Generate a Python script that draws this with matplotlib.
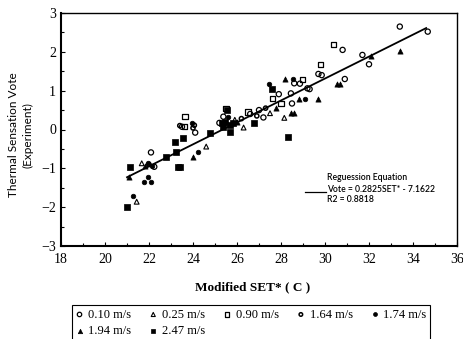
import matplotlib
matplotlib.use("Agg")
import matplotlib.pyplot as plt
from matplotlib.lines import Line2D
import numpy as np

# ---- data ----
series_labels = ["0.10 m/s", "0.25 m/s", "0.90 m/s", "1.64 m/s", "1.74 m/s", "1.94 m/s", "2.47 m/s"]

x_010 = [33.4, 34.67, 32.0, 31.7, 30.8, 29.7, 29.85, 30.9, 29.2, 29.3, 28.86, 28.6, 28.45, 27.9, 28.5, 27.2, 25.38, 23.5, 24.1, 22.24, 22.09, 26.6, 27.0, 25.2]
y_010 = [2.65, 2.52, 1.68, 1.92, 2.05, 1.43, 1.40, 1.30, 1.06, 1.04, 1.18, 1.19, 0.93, 0.91, 0.67, 0.31, 0.33, 0.07, -0.08, -0.96, -0.59, 0.40, 0.50, 0.17]

x_025 = [28.15, 26.3, 21.44, 21.67, 24.6, 27.5, 25.9]
y_025 = [0.30, 0.05, -1.86, -0.87, -0.44, 0.42, 0.25]

x_090 = [30.4, 29.8, 28.97, 27.6, 28.0, 25.5, 23.64, 23.6, 26.5]
y_090 = [2.18, 1.68, 1.29, 0.79, 0.67, 0.55, 0.33, 0.07, 0.45]

x_164 = [24.06, 22.0, 26.9, 23.4, 26.2, 27.3, 24.0]
y_164 = [0.11, -0.90, 0.35, 0.10, 0.28, 0.55, 0.04]

x_174 = [29.1, 28.56, 27.45, 24.24, 21.77, 22.09, 21.94, 21.29, 21.97, 22.12, 23.94, 25.6]
y_174 = [0.79, 1.29, 1.16, -0.59, -1.34, -1.34, -1.23, -1.71, -0.85, -0.93, 0.16, 0.33]

x_194 = [33.4, 32.1, 30.56, 30.7, 29.7, 28.8, 28.17, 28.47, 28.58, 27.76, 23.98, 21.08, 26.0, 21.8]
y_194 = [2.03, 1.89, 1.16, 1.16, 0.79, 0.79, 1.29, 0.43, 0.43, 0.55, -0.72, -1.22, 0.20, -0.95]

x_247 = [28.33, 27.6, 26.77, 23.56, 23.23, 22.76, 23.3, 23.4, 21.14, 20.98, 25.45, 25.3, 25.68, 25.68, 25.38, 25.83, 24.77, 25.53, 23.2]
y_247 = [-0.19, 1.05, 0.17, -0.21, -0.58, -0.70, -0.96, -0.96, -0.96, -1.99, 0.20, 0.16, 0.12, -0.06, 0.07, 0.16, -0.09, 0.50, -0.33]

slope = 0.2825
intercept = -7.1622
r2 = 0.8818
fit_range = [21.0, 34.6]

x_ticks = [18, 20, 22, 24, 26, 28, 30, 32, 34, 36]
y_ticks = [-3, -2, -1, 0, 1, 2, 3]

# ---- figure ----
W, H = 463, 339
fig = plt.figure(figsize=(W / 100, H / 100), dpi=100)
ax = fig.add_axes([61 / W, 1 - 246 / H, (457 - 61) / W, (246 - 13) / H])

styles = [
    dict(marker="o", facecolors="none", edgecolors="black", s=14, linewidths=0.9),
    dict(marker="^", facecolors="none", edgecolors="black", s=12, linewidths=0.8),
    dict(marker="s", facecolors="none", edgecolors="black", s=14, linewidths=0.9),
    dict(marker="o", facecolors="none", edgecolors="black", s=9, linewidths=1.1),
    dict(marker="o", facecolors="black", edgecolors="black", s=11, linewidths=0.5),
    dict(marker="^", facecolors="black", edgecolors="black", s=14, linewidths=0.5),
    dict(marker="s", facecolors="black", edgecolors="black", s=14, linewidths=0.5),
]
xs = [x_010, x_025, x_090, x_164, x_174, x_194, x_247]
ys = [y_010, y_025, y_090, y_164, y_174, y_194, y_247]

handles = []
for xv, yv, st, lab in zip(xs, ys, styles, series_labels):
    h = ax.scatter(xv, yv, label=lab, zorder=3, **st)
    handles.append(h)

fx = np.array(fit_range)
ax.plot(fx, slope * fx + intercept, color="black", lw=1.3, zorder=4)

ax.set_xlim(18, 36)
ax.set_ylim(-3, 3)
ax.set_xticks(x_ticks)
ax.set_yticks(y_ticks)
ax.set_xticks(np.arange(18, 37, 1), minor=True)
ax.set_yticks(np.arange(-3, 3.01, 0.5), minor=True)
ax.tick_params(which="both", direction="in", length=3, width=0.8, labelsize=10)
ax.tick_params(which="minor", length=2)
ax.tick_params(axis="x", pad=5)
for lab in ax.get_xticklabels() + ax.get_yticklabels():
    lab.set_fontfamily("Liberation Serif")
ax.spines["left"].set_linewidth(1.5)
ax.spines["bottom"].set_linewidth(1.5)
ax.spines["top"].set_linewidth(1.0)
ax.spines["right"].set_linewidth(1.0)

# axis labels
fig.text(14 / W, 1 - 135 / H, "Thermal Sensation Vote", rotation=90, ha="center", va="center",
         fontsize=8.5, family="Lato")
fig.text(28 / W, 1 - 135 / H, "(Experiment)", rotation=90, ha="center", va="center",
         fontsize=8.5, family="Lato")
fig.text(253 / W, 1 - 287 / H, "Modified SET* ( C )", ha="center", va="center",
         fontsize=9.5, family="Liberation Serif", fontweight="bold")

# regression annotation
reg_font = dict(fontsize=6.2, family="Lato", fontweight="semibold", ha="left", va="center")
fig.text(327 / W, 1 - 177 / H, "Reguession Equation", **reg_font)
fig.text(327 / W, 1 - 189 / H, f"Vote = {slope:.4f}SET* - {abs(intercept):.4f}", **reg_font)
fig.text(327 / W, 1 - 200 / H, f"R2 = {r2:.4f}", **reg_font)
fig.add_artist(Line2D([305 / W, 326 / W], [1 - 192 / H, 1 - 192 / H], color="black", lw=0.9,
                      transform=fig.transFigure))

# legend (row-major order with ncol=5)
order = [0, 5, 1, 6, 2, 3, 4]
leg = fig.legend([handles[i] for i in order], [series_labels[i] for i in order],
                 ncol=5, loc="upper left", bbox_to_anchor=(72 / W, 1 - 305 / H),
                 frameon=True, fancybox=False, edgecolor="black", framealpha=1,
                 prop=dict(family="Liberation Serif", size=9), markerscale=0.85,
                 handlelength=0.6, handletextpad=0.4, columnspacing=1.45,
                 borderpad=0.3, labelspacing=0.35, borderaxespad=0)
leg.get_frame().set_linewidth(0.8)

fig.savefig("out.png", dpi=100)
